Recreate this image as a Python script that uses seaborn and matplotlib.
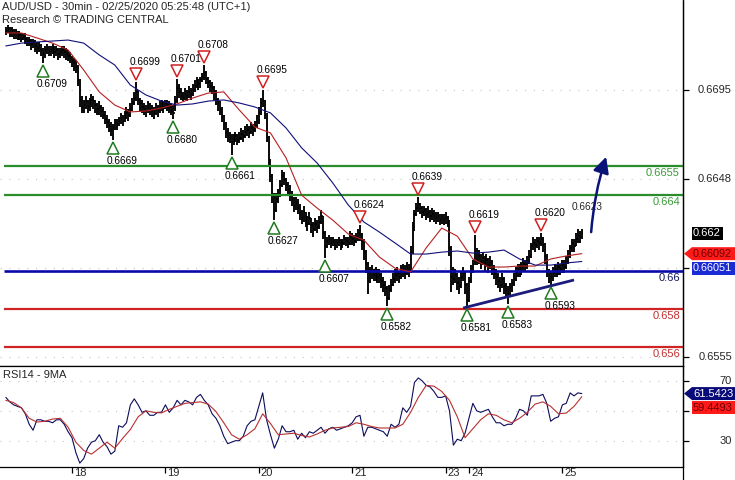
import numpy as np
import pandas as pd
import matplotlib
matplotlib.use("Agg")
import matplotlib.pyplot as plt
from matplotlib.lines import Line2D
from matplotlib.patches import Polygon
from matplotlib.transforms import IdentityTransform, offset_copy
import seaborn as sns

# AUD/USD 30min bars, values in pips above 0.6500 (bar 34 = 18th 00:00)
closes = [
    226, 227, 225, 226, 224, 225, 223, 224, 222, 223,
    222, 220, 221, 219, 220, 218, 217, 218, 216, 214,
    216, 217, 215, 216, 217, 215, 216, 214, 215, 216,
    215, 214, 213, 212, 210, 209, 207, 200, 190, 186,
    187, 189, 186, 188, 190, 189, 187, 185, 186, 184,
    182, 180, 178, 176, 174, 175, 178, 177, 179, 180,
    179, 181, 183, 182, 185, 188, 191, 194, 190, 188,
    186, 185, 184, 186, 185, 184, 183, 185, 184, 186,
    187, 186, 188, 187, 186, 184, 183, 189, 196, 194,
    192, 191, 193, 192, 194, 193, 195, 197, 199, 198,
    200, 202, 204, 201, 199, 197, 196, 194, 190, 188,
    185, 181, 177, 173, 171, 170, 168, 170, 171, 169,
    170, 172, 171, 173, 174, 173, 175, 174, 176, 178,
    183, 188, 190, 182, 170, 158, 150, 140, 132, 138,
    140, 145, 150, 148, 145, 143, 140, 138, 134, 136,
    133, 130, 128, 131, 127, 125, 128, 124, 122, 125,
    123, 126, 129, 120, 113, 116, 117, 115, 116, 114,
    115, 116, 114, 115, 117, 116, 115, 118, 117, 116,
    118, 120, 119, 116, 110, 104, 95, 99, 100, 98,
    99, 97, 98, 95, 93, 91, 86, 90, 93, 96,
    98, 99, 97, 100, 101, 99, 102, 100, 110, 122,
    130, 133, 135, 133, 131, 132, 130, 131, 129, 130,
    129, 128, 129, 127, 128, 127, 128, 126, 112, 97,
    96, 98, 94, 92, 97, 99, 93, 85, 95, 100,
    104, 110, 106, 108, 105, 107, 104, 106, 103, 105,
    102, 99, 97, 95, 93, 96, 92, 90, 88, 91,
    94, 96, 99, 101, 100, 102, 104, 103, 105, 108,
    113, 115, 114, 116, 115, 117, 114, 108, 100, 96,
    97, 99, 101, 100, 102, 101, 103, 102, 105, 108,
    112, 115, 113, 117, 119, 118, 120,
]
highs = [
    228, 229, 228, 228, 227, 227, 226, 226, 225, 225,
    225, 223, 223, 222, 222, 221, 220, 220, 219, 217,
    218, 219, 218, 218, 219, 218, 218, 217, 217, 218,
    218, 217, 216, 215, 213, 212, 211, 208, 201, 192,
    190, 192, 190, 191, 193, 192, 190, 188, 189, 187,
    186, 184, 182, 180, 178, 177, 180, 180, 181, 183,
    182, 184, 186, 185, 188, 191, 194, 199, 195, 191,
    190, 188, 187, 189, 188, 187, 186, 188, 187, 189,
    190, 189, 190, 190, 189, 188, 187, 192, 201, 198,
    196, 194, 196, 195, 197, 196, 198, 200, 202, 201,
    202, 204, 208, 205, 202, 200, 199, 197, 195, 191,
    189, 186, 182, 178, 175, 173, 172, 172, 173, 172,
    173, 175, 174, 176, 177, 176, 178, 177, 179, 182,
    186, 191, 195, 190, 183, 171, 159, 151, 141, 141,
    143, 148, 153, 152, 149, 147, 145, 142, 139, 139,
    138, 135, 132, 134, 131, 129, 131, 128, 126, 128,
    127, 129, 132, 129, 121, 118, 119, 118, 118, 117,
    117, 118, 117, 117, 119, 118, 118, 121, 120, 119,
    120, 122, 124, 120, 117, 111, 105, 102, 103, 101,
    102, 101, 101, 99, 97, 95, 92, 93, 96, 99,
    101, 102, 100, 103, 104, 103, 105, 104, 113, 126,
    132, 136, 139, 136, 134, 134, 133, 134, 132, 133,
    132, 131, 131, 130, 130, 130, 131, 129, 127, 113,
    102, 101, 99, 97, 100, 102, 100, 94, 97, 103,
    106, 119, 112, 111, 109, 110, 108, 109, 107, 108,
    106, 103, 101, 99, 97, 99, 97, 94, 92, 94,
    96, 99, 102, 104, 104, 105, 107, 106, 108, 111,
    115, 118, 117, 118, 118, 120, 118, 115, 109, 101,
    100, 102, 104, 103, 105, 104, 106, 106, 108, 111,
    114, 117, 117, 120, 122, 121, 122,
]
lows = [
    224, 225, 223, 223, 222, 222, 221, 221, 220, 221,
    219, 218, 218, 216, 217, 215, 214, 215, 213, 209,
    212, 214, 213, 213, 214, 212, 213, 211, 212, 213,
    212, 211, 210, 209, 207, 205, 204, 197, 186, 183,
    183, 185, 183, 184, 186, 185, 183, 182, 182, 181,
    180, 177, 175, 173, 171, 169, 174, 174, 176, 177,
    176, 178, 180, 179, 181, 184, 187, 189, 187, 184,
    183, 182, 181, 183, 182, 181, 180, 182, 181, 183,
    184, 183, 185, 184, 183, 182, 180, 184, 188, 191,
    190, 189, 190, 189, 191, 190, 192, 194, 196, 195,
    196, 199, 200, 198, 196, 194, 193, 190, 187, 184,
    182, 178, 174, 170, 168, 167, 161, 166, 168, 166,
    167, 169, 168, 170, 171, 170, 172, 171, 173, 175,
    177, 182, 186, 180, 168, 155, 147, 136, 127, 131,
    136, 139, 144, 145, 142, 140, 137, 134, 131, 132,
    130, 127, 125, 126, 123, 121, 124, 120, 118, 121,
    120, 122, 125, 117, 107, 112, 114, 112, 113, 111,
    112, 113, 111, 112, 114, 113, 112, 114, 114, 113,
    115, 116, 116, 111, 106, 99, 88, 94, 96, 95,
    95, 94, 94, 91, 89, 87, 82, 85, 89, 92,
    94, 95, 94, 96, 97, 96, 98, 97, 99, 109,
    121, 129, 131, 130, 128, 129, 127, 128, 126, 127,
    126, 125, 126, 124, 125, 124, 125, 123, 108, 89,
    93, 94, 90, 88, 91, 95, 88, 81, 84, 94,
    99, 103, 103, 104, 101, 103, 100, 102, 99, 101,
    98, 96, 93, 91, 89, 91, 88, 86, 83, 87,
    89, 92, 95, 97, 97, 98, 100, 100, 101, 104,
    107, 111, 110, 112, 111, 113, 110, 104, 97, 94,
    93, 95, 97, 97, 98, 98, 99, 99, 101, 104,
    107, 110, 110, 113, 115, 115, 117,
]

# moving averages read every 8 bars (pips above 0.6500)
ma_red = [224.9, 224.9, 222.3, 219.6, 216.0, 205.5, 194.0, 187.1, 183.5, 184.0,
          185.6, 187.7, 190.8, 193.4, 194.0, 184.5, 175.6, 172.5, 159.4, 139.9,
          133.1, 126.8, 119.5, 116.3, 107.4, 101.6, 99.6, 112.2, 122.6, 118.4,
          106.4, 102.2, 102.2, 102.7, 102.7, 106.4, 108.0, 109.2]
ma_blue = [218.1, 219.6, 220.2, 220.7, 221.2, 219.6, 213.4, 208.1, 197.6, 192.4,
           189.2, 187.1, 187.7, 189.2, 189.8, 188.2, 186.1, 183.0, 175.1, 164.7,
           156.7, 146.3, 134.7, 125.8, 120.5, 114.8, 109.0, 109.0, 110.0, 110.6,
           109.5, 110.0, 111.1, 106.4, 103.2, 103.2, 104.3, 105.1]

# RSI14 read every 2 bars, its 9MA every 4 bars
rsi = [59, 56, 54, 53, 52, 48, 41, 37, 44, 44,
       43, 43, 42, 44, 44, 41, 36, 32, 22, 15,
       18, 25, 29, 30, 34, 29, 26, 21, 23, 40,
       39, 42, 54, 58, 54, 49, 50, 47, 47, 49,
       49, 54, 49, 52, 57, 54, 57, 56, 54, 59,
       61, 57, 54, 48, 45, 40, 33, 28, 29, 30,
       30, 33, 40, 43, 44, 53, 62, 44, 34, 25,
       31, 40, 36, 36, 37, 31, 35, 32, 36, 35,
       37, 39, 35, 38, 39, 37, 38, 39, 40, 42,
       46, 47, 33, 39, 39, 38, 37, 36, 33, 41,
       39, 41, 52, 49, 53, 69, 72, 70, 67, 66,
       63, 59, 59, 60, 50, 27, 31, 30, 35, 45,
       55, 50, 49, 50, 51, 46, 42, 42, 40, 41,
       41, 45, 51, 50, 47, 60, 60, 60, 61, 55,
       43, 45, 46, 54, 55, 62, 60, 62, 61.5423]
rsi_ma = [57, 55.5, 52, 45, 42.5, 43, 44.5, 45, 39, 29,
          23.5, 21, 25, 29, 25, 31.5, 37.5, 46, 50, 49,
          48.6, 51, 53, 55, 55.5, 56, 54.5, 49.5, 42, 34,
          31, 34, 38, 48, 41.5, 34, 34.5, 35, 33.5, 32.5,
          34.5, 37, 38.5, 39, 39.5, 42, 41, 39.5, 38.5, 38.5,
          38.5, 41, 49, 59, 67, 66.5, 63, 57, 46, 32,
          38, 44, 48, 47, 44, 42, 45, 49, 54.5, 56,
          53, 48, 48.5, 53, 59.4493]

day_bars = [34, 82, 130, 178, 226, 238, 286]
day_labels = ['18', '19', '20', '21', '23', '24', '25']

swing_high_bars = [67, 88, 102, 132, 182, 212, 241, 275]
swing_high_pips = [199, 201, 208, 195, 124, 139, 119, 120]
swing_low_bars = [19, 55, 86, 116, 138, 164, 196, 237, 258, 280]
swing_low_pips = [209, 169, 180, 161, 127, 107, 82, 81, 83, 93]

levels = [0.6655, 0.664, 0.66, 0.658, 0.656]
level_labels = ['0.6655', '0.664', '0.66', '0.658', '0.656']
level_colors = ['#2a8c2a', '#2a8c2a', '#0a0aa8', '#d02424', '#d02424']
level_text_colors = ['#3a9a3a', '#3a9a3a', '#14145e', '#c03030', '#c03030']

trend_bars = [235, 292]
trend_prices = [0.65807, 0.65954]

price_ticks = [0.6695, 0.66483, 0.66017, 0.6555]
price_tick_labels = ['0.6695', '0.6648', '', '0.6555']
rsi_ticks = [70, 50, 30]
rsi_tick_labels = ['70', '', '30']

W, H = 735, 480
px = lambda v: v / 10000 + 0.65

bars = pd.DataFrame({'bar': np.arange(len(closes)),
                     'high': px(np.array(highs)),
                     'low': px(np.array(lows)),
                     'close': px(np.array(closes))})
ma = pd.DataFrame({'bar': np.arange(0, len(closes), 8),
                   'red': px(np.array(ma_red)), 'blue': px(np.array(ma_blue))})
rsi_df = pd.DataFrame({'bar': np.arange(0, len(closes), 2), 'rsi': rsi})
rsi_ma_df = pd.DataFrame({'bar': np.arange(0, len(closes), 4), 'ma': rsi_ma})

sns.set_style('white')
plt.rcParams['font.family'] = ['Liberation Sans', 'DejaVu Sans']

fig = plt.figure(figsize=(W / 100, H / 100), dpi=100)
ax = fig.add_axes([0, 1 - 366 / H, 683 / W, 366 / H])
ax2 = fig.add_axes([0, 13 / H, 683 / W, 101 / H])

ax.set_xlim(-3, 348)
ax.set_ylim(0.65503, 0.67422)
ax2.set_xlim(-3, 348)
ax2.set_ylim(12.4, 80.0)

for a in (ax, ax2):
    a.set_facecolor('white')
    for s in a.spines.values():
        s.set_color('black')
        s.set_linewidth(0.9)
    a.spines['left'].set_visible(False)
ax.spines['top'].set_visible(False)

dots = dict(color='#c4c4c4', lw=0.8, ls=(0, (1, 7)), zorder=0)
for v in price_ticks:
    ax.axhline(v, **dots)
for v in rsi_ticks:
    ax2.axhline(v, **dots)

# price bars
ax.vlines(bars['bar'], bars['low'], bars['high'], color='black', lw=1.35, zorder=2)
ax.hlines(bars['close'], bars['bar'], bars['bar'] + 0.8, color='black', lw=1.2, zorder=2)

# levels
for lv, c in zip(levels, level_colors):
    ax.hlines(lv, -1, 348, color=c, lw=1.6 if c != '#0a0aa8' else 1.9, zorder=3)
for lv, lab, c in zip(levels, level_labels, level_text_colors):
    ax.annotate(lab, (1, lv), xycoords=('axes fraction', 'data'), xytext=(-3, -2),
                textcoords='offset pixels', ha='right', va='top', fontsize=8, color=c)

sns.lineplot(data=ma, x='bar', y='red', ax=ax, color='#b52020', lw=0.8, zorder=4)
sns.lineplot(data=ma, x='bar', y='blue', ax=ax, color='#10107a', lw=0.8, zorder=4)
ax.plot(trend_bars, trend_prices, color='#1c1c7c', lw=2.0, zorder=4, solid_capstyle='butt')

# swing markers
up = offset_copy(ax.transData, fig=fig, x=0, y=8, units='dots')
down = offset_copy(ax.transData, fig=fig, x=0, y=-8, units='dots')
sh = [px(v) for v in swing_high_pips]
sl = [px(v) for v in swing_low_pips]
ax.plot(swing_high_bars, sh, 'v', ms=8, mfc='white', mec='#d02020', mew=1.1,
        ls='none', transform=up, zorder=5)
ax.plot(swing_low_bars, sl, '^', ms=8, mfc='white', mec='#1f7a1f', mew=1.1,
        ls='none', transform=down, zorder=5)
for b, p in zip(swing_high_bars, sh):
    ax.annotate(f'{p:.4f}', (b, p), xytext=(9, 15), textcoords='offset pixels',
                ha='center', va='bottom', fontsize=7.3, color='black', zorder=6)
for b, p in zip(swing_low_bars, sl):
    ax.annotate(f'{p:.4f}', (b, p), xytext=(9, -16), textcoords='offset pixels',
                ha='center', va='top', fontsize=7.3, color='black', zorder=6)
ax.text(291, 0.66337, '0.6623', fontsize=7.3, ha='left', va='center', zorder=6)

# projection arrow
ax.annotate('', xy=(308.5, 0.66600), xytext=(300.8, 0.66205),
            arrowprops=dict(arrowstyle='-|>,head_length=0.6,head_width=0.3',
                            color='#0a1478', lw=1.8, mutation_scale=16,
                            connectionstyle='arc3,rad=-0.06', shrinkA=0, shrinkB=0),
            zorder=6)

# RSI panel
sns.lineplot(data=rsi_df, x='bar', y='rsi', ax=ax2, color='#0c0c5c', lw=0.8, zorder=3)
sns.lineplot(data=rsi_ma_df, x='bar', y='ma', ax=ax2, color='#b83030', lw=0.8, zorder=4)

for a in (ax, ax2):
    a.set_xlabel('')
    a.set_ylabel('')

ax.set_xticks([])
ax.set_yticks(price_ticks)
ax.set_yticklabels([])
ax.yaxis.tick_right()
ax.tick_params(axis='y', direction='out', length=4, width=0.9, color='black')
for v, lab in zip(price_ticks, price_tick_labels):
    ax.annotate(lab, (1, v), xycoords=('axes fraction', 'data'), xytext=(49, 0),
                textcoords='offset pixels', ha='right', va='center', fontsize=8,
                annotation_clip=False)

ax2.set_yticks(rsi_ticks)
ax2.set_yticklabels([])
ax2.yaxis.tick_right()
ax2.tick_params(axis='y', direction='out', length=4, width=0.9, color='black')
for v, lab in zip(rsi_ticks, rsi_tick_labels):
    ax2.annotate(lab, (1, v), xycoords=('axes fraction', 'data'), xytext=(49, 0),
                 textcoords='offset pixels', ha='right', va='center', fontsize=8,
                 annotation_clip=False)

ax2.set_xticks(day_bars)
ax2.set_xticklabels([])
ax2.tick_params(axis='x', direction='out', length=4, width=0.9, color='black', bottom=True)
for b, lab in zip(day_bars, day_labels):
    ax2.annotate(lab, (b, 0), xycoords=('data', 'axes fraction'), xytext=(2, -1),
                 textcoords='offset pixels', ha='left', va='top', fontsize=8,
                 annotation_clip=False)

fig.add_artist(Line2D([683 / W, 683 / W], [0, 1], transform=fig.transFigure,
                      color='black', lw=0.9))

# titles
fig.text(2 / W, 1 - 7 / H, 'AUD/USD - 30min - 02/25/2020 05:25:48 (UTC+1)',
         fontsize=8, va='center', ha='left')
fig.text(2 / W, 1 - 20 / H, 'Research © TRADING CENTRAL', fontsize=8, va='center', ha='left')
fig.text(3 / W, 1 - 375 / H, 'RSI14 - 9MA', fontsize=8, va='center', ha='left')


# value tags on the right axis
def tag(y_disp, text, face, ink, arrow=False, right=745, size=8):
    h = 13
    left = 692
    pts = [(left, y_disp + h / 2), (right, y_disp + h / 2),
           (right, y_disp - h / 2), (left, y_disp - h / 2)]
    if arrow:
        pts.append((684, y_disp))
    fig.add_artist(Polygon(pts, closed=True, transform=IdentityTransform(),
                           fc=face, ec='none', zorder=10))
    fig.text(left + 1, y_disp, text, transform=IdentityTransform(), color=ink,
             fontsize=size, va='center', ha='left', zorder=11)


def disp_y(a, v):
    return a.transData.transform((0, v))[1]


tag(disp_y(ax, bars['close'].iloc[-1]), f"{bars['close'].iloc[-1]:g}", 'black', 'white', right=723)
tag(disp_y(ax, 0.66092), '0.66092', '#ff1a1a', '#6e0000', arrow=True, size=7.8)
tag(disp_y(ax, 0.66051) - 7, '0.66051', '#1a2ad4', 'white', size=7.8)
tag(disp_y(ax2, 61.5423), '61.5423', '#0a0a78', 'white', arrow=True)
tag(disp_y(ax2, 59.4493) - 11, '59.4493', '#ff1a1a', '#6e0000')

fig.savefig('out.png', dpi=100)
